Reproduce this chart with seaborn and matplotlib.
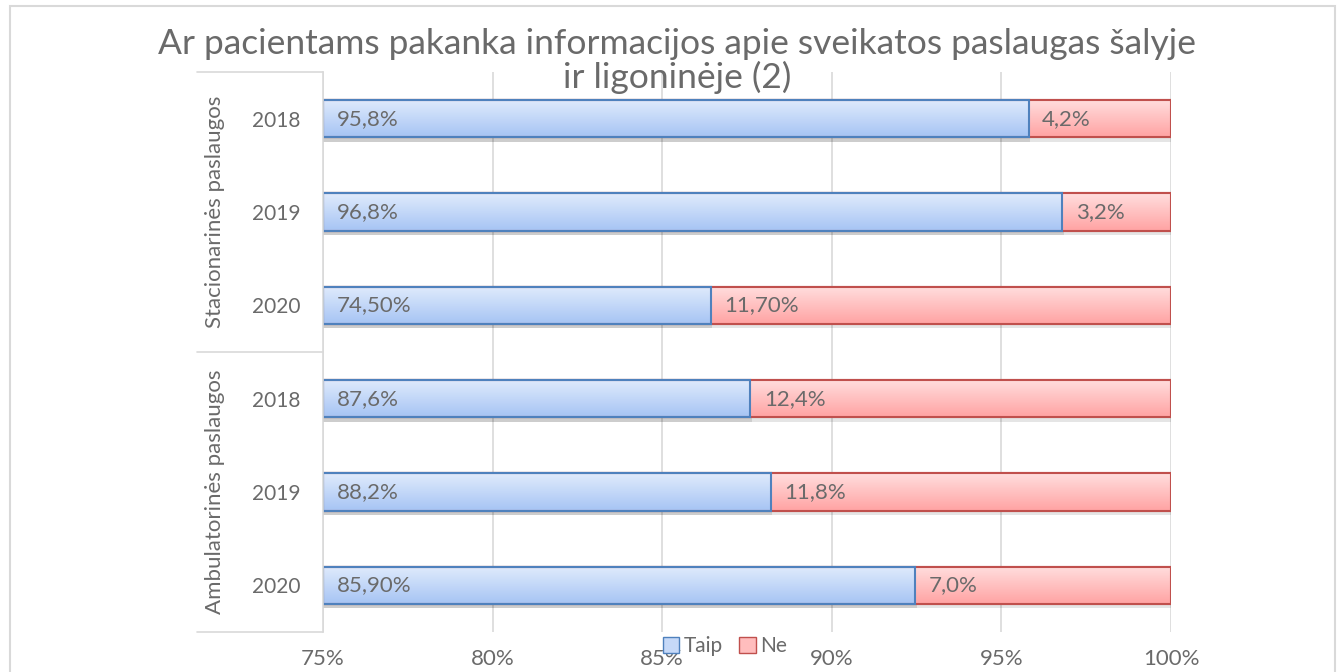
import matplotlib.pyplot as plt
import seaborn as sns
import pandas as pd
import numpy as np
from matplotlib.patches import Rectangle, Patch
from matplotlib.colors import to_rgb
import matplotlib.patheffects as pe

# duomenys
groups = ['Stacionarinės paslaugos', 'Ambulatorinės paslaugos']
years = ['2018', '2019', '2020']
taip = [95.8, 96.8, 74.5, 87.6, 88.2, 85.9]
ne = [4.2, 3.2, 11.7, 12.4, 11.8, 7.0]
taip_labels = ['95,8%', '96,8%', '74,50%', '87,6%', '88,2%', '85,90%']
ne_labels = ['4,2%', '3,2%', '11,70%', '12,4%', '11,8%', '7,0%']
x_ticks = [75, 80, 85, 90, 95, 100]

sns.set_style('white')
plt.rcParams['font.family'] = ['Lato', 'DejaVu Sans']
gray = '#6a6a6a'

rows = [g + ' ' + y for g in groups for y in years]
df = pd.DataFrame({'row': rows, 'taip': taip, 'ne': ne})
df['total'] = 100.0
df['taip_share'] = df['taip'] / (df['taip'] + df['ne']) * 100

fig = plt.figure(figsize=(13.4, 6.72), dpi=100)
ax = fig.add_axes([323 / 1340, 1 - 632 / 672, 848 / 1340, 560 / 672])

# 100% sukrautos juostos: raudona (visa) ir mėlyna ant viršaus
sns.barplot(data=df, y='row', x='total', color='#ffbdbd', width=0.4,
            orient='h', ax=ax, edgecolor='#c0504d', linewidth=1.5)
n_red = len(ax.patches)
sns.barplot(data=df, y='row', x='taip_share', color='#c6d9f8', width=0.4,
            orient='h', ax=ax, edgecolor='#4f81bd', linewidth=1.5)

ax.set_xlim(75, 100)
ax.set_ylim(len(rows) - 0.5, -0.5)

# gradientai ir šešėliai
grads = {
    'red': (to_rgb('#ffdede'), to_rgb('#ffa3a3'), '#c0504d'),
    'blue': (to_rgb('#e0ebfc'), to_rgb('#a6c4f4'), '#4f81bd'),
}
for i, p in enumerate(list(ax.patches)):
    key = 'red' if i < n_red else 'blue'
    c0, c1, ec = grads[key]
    bb = p.get_bbox()
    x0, x1 = max(bb.x0, 75), bb.x1
    y0, y1 = bb.y0, bb.y1
    t = np.linspace(0, 1, 64)[:, None, None]
    img = (1 - t) * np.array(c0) + t * np.array(c1)
    p.set_path_effects([pe.SimplePatchShadow(offset=(1, -3), shadow_rgbFace='#000000', alpha=0.1),
                        pe.Normal()])
    im = ax.imshow(img, extent=(x0, x1, y0, y1), origin='lower', aspect='auto',
                   zorder=p.get_zorder() + 0.1, interpolation='bilinear')
    im.set_clip_path(p)
    ax.add_patch(Rectangle((x0, y0), x1 - x0, y1 - y0, fill=False, edgecolor=ec,
                           linewidth=1.5, zorder=p.get_zorder() + 0.2))

ax.set_xlim(75, 100)
ax.set_ylim(len(rows) - 0.5, -0.5)

# duomenų žymės
for i in range(len(rows)):
    ax.text(75.4, i, taip_labels[i], va='center', ha='left', fontsize=16,
            color=gray, zorder=10)
    ax.text(df['taip_share'][i] + 0.4, i, ne_labels[i], va='center', ha='left',
            fontsize=16, color=gray, zorder=10)

# ašys
ax.set_xticks(x_ticks)
ax.set_xticklabels([f'{v}%' for v in x_ticks], fontsize=16, color=gray)
ax.tick_params(axis='x', length=0, pad=12)
ax.set_yticks(range(len(rows)))
ax.set_yticklabels(years * len(groups), fontsize=15, color=gray)
ax.tick_params(axis='y', length=0, pad=16)
ax.grid(axis='x', color='#d9d9d9', linewidth=1.2)
ax.set_axisbelow(True)
for s in ['top', 'right', 'bottom']:
    ax.spines[s].set_visible(False)
ax.spines['left'].set_color('#d9d9d9')
ax.spines['left'].set_linewidth(1.2)
ax.set_xlabel('')
ax.set_ylabel('')

# grupių pavadinimai ir skirtukai
left = -(323 - 197) / 848
for yy in [0, 0.5, 1]:
    ax.plot([left, 0], [yy, yy], transform=ax.transAxes, color='#d9d9d9',
            linewidth=1.2, clip_on=False)
for k, g in enumerate(groups):
    ax.text(-(323 - 215) / 848, 0.75 - 0.5 * k, g, transform=ax.transAxes,
            rotation=90, ha='center', va='center', fontsize=16, color=gray)

# pavadinimas
fig.text(0.505, 1 - 28 / 672,
         'Ar pacientams pakanka informacijos apie sveikatos paslaugas šalyje\nir ligoninėje (2)',
         ha='center', va='top', fontsize=25.5, color=gray, linespacing=1.05)

# legenda
handles = [Patch(facecolor='#c6d9f8', edgecolor='#4f81bd', label='Taip'),
           Patch(facecolor='#ffbdbd', edgecolor='#c0504d', label='Ne')]
fig.legend(handles=handles, loc='center', bbox_to_anchor=(725 / 1340, 1 - 646 / 672),
           ncol=2, frameon=False, fontsize=15, handlelength=0.8, handleheight=0.8,
           handletextpad=0.2, columnspacing=0.8, labelcolor=gray)

# diagramos rėmelis
fig.patches.append(Rectangle((10 / 1340, -0.01), 1325 / 1340, 1 - 6 / 672 + 0.01,
                             transform=fig.transFigure, fill=False,
                             edgecolor='#d9d9d9', linewidth=1.5))

fig.savefig('out.png', dpi=100)
